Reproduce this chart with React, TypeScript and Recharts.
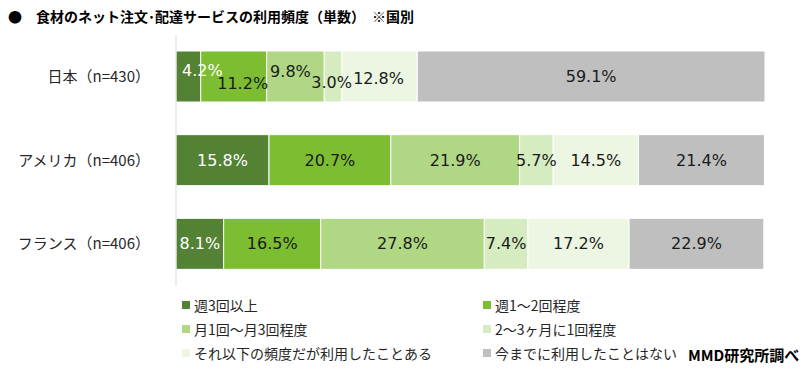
import { BarChart, Bar, XAxis, YAxis, Legend, LabelList } from 'recharts';

const countries = ['日本（n=430）', 'アメリカ（n=406）', 'フランス（n=406）'];
const seriesNames = [
  '週3回以上',
  '週1～2回程度',
  '月1回～月3回程度',
  '2～3ヶ月に1回程度',
  'それ以下の頻度だが利用したことある',
  '今までに利用したことはない',
];
const weekly3 = [4.2, 15.8, 8.1];
const weekly1to2 = [11.2, 20.7, 16.5];
const monthly = [9.8, 21.9, 27.8];
const everyFewMonths = [3.0, 5.7, 7.4];
const lessOften = [12.8, 14.5, 17.2];
const never = [59.1, 21.4, 22.9];

const colors = ['#548235', '#7cbd32', '#b0d884', '#d5ebc0', '#ecf6e2', '#bfbfbf'];
const seriesKeys = ['s0', 's1', 's2', 's3', 's4', 's5'];
const seriesValues = [weekly3, weekly1to2, monthly, everyFewMonths, lessOften, never];

// small labels in the Japan row are nudged so they don't collide
const japanShift: [number, number][] = [[14, -6], [9, 7], [-5, -5], [-1.5, 6], [-1, 2], [0, 0]];

const data = countries.map((name, i) => {
  const row: Record<string, string | number> = { name };
  seriesKeys.forEach((k, s) => {
    row[k] = seriesValues[s][i];
  });
  return row;
});

function makeLabel(series: number) {
  return (props: any) => {
    const { x, y, width, height, value, index } = props;
    const [dx, dy] = index === 0 ? japanShift[series] : [0, 0];
    return (
      <text
        x={x + width / 2 + dx}
        y={y + height / 2 + dy}
        textAnchor="middle"
        dominantBaseline="central"
        fontSize={16}
        fontFamily="'DejaVu Sans', sans-serif"
        fill={series === 0 ? '#ffffff' : '#1a1a1a'}
      >
        {Number(value).toFixed(1)}%
      </text>
    );
  };
}

function LegendBox({ payload }: any) {
  const items = [...(payload || [])].sort(
    (a: any, b: any) => seriesNames.indexOf(a.value) - seriesNames.indexOf(b.value)
  );
  return (
    <div style={{ position: 'relative', width: 812, height: 80 }}>
      {items.map((item: any, i: number) => {
        const col = i % 2;
        const row = Math.floor(i / 2);
        return (
          <div
            key={i}
            style={{
              position: 'absolute',
              left: col === 0 ? 182 : 483,
              top: 3 + row * 24,
              display: 'flex',
              alignItems: 'center',
              fontFamily: "'Noto Sans CJK JP', sans-serif",
              fontSize: 14,
              color: '#262626',
              whiteSpace: 'nowrap',
              lineHeight: '20px',
            }}
          >
            <span style={{ width: 8, height: 8, background: item.color, marginRight: 4, display: 'inline-block' }} />
            {item.value}
          </div>
        );
      })}
      <div
        style={{
          position: 'absolute',
          left: 688,
          top: 53,
          fontFamily: "'Noto Sans CJK JP', sans-serif",
          fontWeight: 700,
          fontSize: 15,
          color: '#000',
          lineHeight: '20px',
          whiteSpace: 'nowrap',
        }}
      >
        MMD研究所調べ
      </div>
    </div>
  );
}

export default function App() {
  return (
    <div style={{ position: 'absolute', left: 0, top: 0, width: 812, height: 376, background: '#fff' }}>
      <div
        style={{
          position: 'absolute',
          left: 8,
          top: 6,
          fontFamily: "'Noto Sans CJK JP', sans-serif",
          fontWeight: 700,
          fontSize: 14,
          color: '#000',
          whiteSpace: 'pre',
          lineHeight: '20px',
        }}
      >
        {'●　食材のネット注文･配達サービスの利用頻度（単数）　※国別'}
      </div>
      <BarChart
        width={812}
        height={376}
        data={data}
        layout="vertical"
        margin={{ top: 35, right: 47, bottom: 90, left: 0 }}
        style={{ position: 'absolute', left: 0, top: 0 }}
      >
        <XAxis type="number" domain={[0, 100]} hide />
        <YAxis
          type="category"
          dataKey="name"
          width={176}
          tickLine={false}
          tickSize={0}
          tickMargin={26}
          axisLine={{ stroke: '#d9d9d9' }}
          tick={{ fontSize: 15, fill: '#262626', fontFamily: "'Noto Sans CJK JP', sans-serif" }}
        />
        <Legend
          layout="horizontal"
          verticalAlign="middle"
          align="center"
          wrapperStyle={{ left: 0, top: 292, width: 812 }}
          content={<LegendBox />}
        />
        {seriesKeys.map((k, s) => (
          <Bar
            key={k}
            dataKey={k}
            name={seriesNames[s]}
            stackId="a"
            fill={colors[s]}
            stroke="#ffffff"
            strokeWidth={1}
            barSize={51}
            isAnimationActive={false}
          >
            <LabelList dataKey={k} content={makeLabel(s)} />
          </Bar>
        ))}
      </BarChart>
    </div>
  );
}
